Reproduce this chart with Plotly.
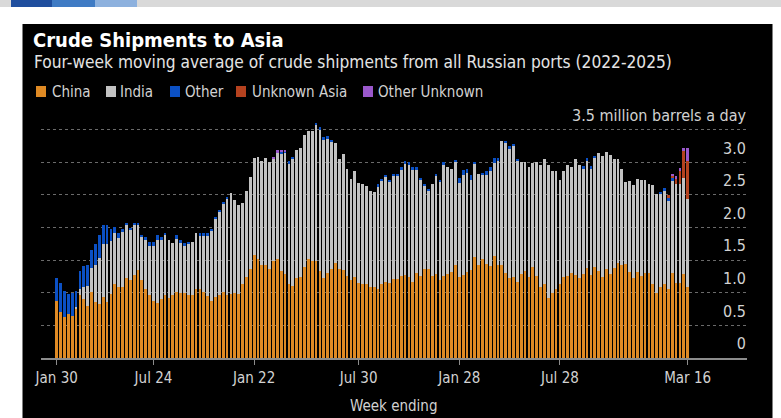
import pandas as pd
import plotly.graph_objects as go

# Weekly observations (week ending), four-week moving averages, million barrels a day
weeks = pd.date_range("2022-01-30", periods=164, freq="7D")

china = [
    0.87, 0.71, 0.63, 0.68, 0.65, 0.76, 0.97, 0.90, 0.80, 1.01,
    0.86, 0.83, 0.93, 0.86, 0.98, 1.14, 1.09, 1.09, 1.22, 1.19,
    1.27, 1.35, 1.19, 1.05, 0.97, 0.88, 0.85, 0.90, 0.96, 0.92,
    0.97, 1.01, 0.99, 0.99, 0.96, 0.96, 1.06, 1.06, 1.01, 0.95,
    0.88, 0.93, 0.96, 1.01, 0.97, 0.98, 1.00, 0.98, 1.13, 1.24,
    1.36, 1.57, 1.51, 1.43, 1.43, 1.36, 1.48, 1.51, 1.33, 1.29,
    1.13, 1.10, 1.23, 1.24, 1.39, 1.51, 1.48, 1.49, 1.33, 1.23,
    1.30, 1.37, 1.46, 1.36, 1.35, 1.25, 1.19, 1.24, 1.15, 1.13,
    1.14, 1.09, 1.08, 1.05, 1.13, 1.16, 1.15, 1.21, 1.21, 1.25,
    1.27, 1.24, 1.17, 1.30, 1.25, 1.36, 1.36, 1.26, 1.29, 1.19,
    1.25, 1.29, 1.31, 1.42, 1.24, 1.27, 1.31, 1.35, 1.54, 1.43,
    1.51, 1.44, 1.41, 1.56, 1.43, 1.43, 1.30, 1.23, 1.24, 1.17,
    1.29, 1.33, 1.24, 1.39, 1.25, 1.09, 1.14, 0.92, 0.99, 1.05,
    1.13, 1.24, 1.26, 1.30, 1.27, 1.22, 1.28, 1.38, 1.27, 1.39,
    1.33, 1.24, 1.36, 1.29, 1.38, 1.45, 1.42, 1.44, 1.31, 1.23,
    1.32, 1.26, 1.30, 1.30, 1.13, 0.99, 1.09, 1.13, 1.06, 1.30,
    1.15, 1.15, 1.28, 1.09,
]

india = [
    0.00, 0.00, 0.00, 0.00, 0.00, 0.02, 0.09, 0.18, 0.30, 0.37,
    0.56, 0.70, 0.81, 0.89, 0.81, 0.78, 0.75, 0.84, 0.82, 0.78,
    0.78, 0.69, 0.67, 0.76, 0.75, 0.84, 0.95, 0.90, 0.93, 0.89,
    0.79, 0.82, 0.77, 0.72, 0.78, 0.82, 0.86, 0.82, 0.87, 0.93,
    1.08, 1.21, 1.29, 1.35, 1.48, 1.54, 1.42, 1.37, 1.25, 1.32,
    1.41, 1.49, 1.57, 1.59, 1.63, 1.64, 1.57, 1.63, 1.80, 1.85,
    1.84, 1.95, 1.96, 1.97, 2.02, 1.96, 1.99, 2.08, 2.16, 2.11,
    2.06, 1.94, 1.84, 1.69, 1.77, 1.64, 1.55, 1.62, 1.53, 1.54,
    1.50, 1.47, 1.47, 1.58, 1.59, 1.62, 1.55, 1.59, 1.59, 1.63,
    1.70, 1.73, 1.72, 1.59, 1.49, 1.28, 1.20, 1.41, 1.50, 1.51,
    1.72, 1.64, 1.59, 1.59, 1.44, 1.53, 1.52, 1.38, 1.44, 1.39,
    1.29, 1.36, 1.45, 1.43, 1.59, 1.89, 1.99, 1.97, 2.00, 1.85,
    1.71, 1.67, 1.68, 1.59, 1.75, 1.86, 1.91, 2.04, 1.87, 1.82,
    1.59, 1.63, 1.69, 1.62, 1.78, 1.73, 1.62, 1.63, 1.63, 1.67,
    1.81, 1.85, 1.79, 1.82, 1.67, 1.60, 1.48, 1.25, 1.40, 1.42,
    1.42, 1.46, 1.42, 1.37, 1.52, 1.52, 1.42, 1.44, 1.35, 1.41,
    1.51, 1.52, 1.47, 1.34,
]

other = [
    0.36, 0.44, 0.39, 0.30, 0.35, 0.24, 0.28, 0.33, 0.33, 0.28,
    0.33, 0.36, 0.29, 0.28, 0.18, 0.08, 0.08, 0.04, 0.03, 0.02,
    0.02, 0.02, 0.02, 0.04, 0.06, 0.06, 0.08, 0.06, 0.03, 0.00,
    0.00, 0.06, 0.04, 0.05, 0.04, 0.00, 0.00, 0.03, 0.03, 0.03,
    0.02, 0.02, 0.02, 0.02, 0.01, 0.00, 0.00, 0.00, 0.00, 0.00,
    0.00, 0.00, 0.00, 0.00, 0.00, 0.00, 0.00, 0.00, 0.03, 0.03,
    0.04, 0.02, 0.00, 0.00, 0.00, 0.00, 0.00, 0.02, 0.05, 0.05,
    0.04, 0.03, 0.00, 0.00, 0.00, 0.00, 0.00, 0.00, 0.00, 0.00,
    0.00, 0.00, 0.00, 0.03, 0.02, 0.03, 0.03, 0.02, 0.02, 0.04,
    0.05, 0.03, 0.03, 0.03, 0.02, 0.03, 0.03, 0.00, 0.03, 0.03,
    0.03, 0.00, 0.00, 0.02, 0.08, 0.08, 0.07, 0.07, 0.02, 0.00,
    0.04, 0.06, 0.07, 0.07, 0.04, 0.00, 0.04, 0.04, 0.04, 0.03,
    0.00, 0.00, 0.00, 0.00, 0.00, 0.00, 0.00, 0.00, 0.00, 0.00,
    0.00, 0.00, 0.00, 0.00, 0.00, 0.00, 0.04, 0.05, 0.04, 0.04,
    0.00, 0.00, 0.00, 0.00, 0.00, 0.00, 0.00, 0.00, 0.00, 0.00,
    0.00, 0.00, 0.00, 0.00, 0.00, 0.00, 0.04, 0.03, 0.04, 0.04,
    0.00, 0.00, 0.00, 0.00,
]

unknown_asia = [0.0] * 158 + [0.04, 0.05, 0.09, 0.19, 0.42, 0.59]

other_unknown = (
    [0.0] * 56 + [0.03, 0.04, 0.03, 0.02] + [0.0] * 99
    + [0.02, 0.03, 0.05, 0.04, 0.19]
)

series_names = ["China", "India", "Other", "Unknown Asia", "Other Unknown"]
series_values = [china, india, other, unknown_asia, other_unknown]
series_colors = ["#DF8A24", "#C2C2C2", "#0B50C4", "#B5421F", "#9A58CB"]

tick_dates = ["2022-01-30", "2022-07-24", "2023-01-22", "2023-07-30",
              "2024-01-28", "2024-07-28", "2025-03-16"]
tick_labels = ["Jan 30", "Jul 24", "Jan 22", "Jul 30", "Jan 28", "Jul 28", "Mar 16"]

y_ticks = [0, 0.5, 1.0, 1.5, 2.0, 2.5, 3.0, 3.5]
y_labels = ["0", "0.5", "1.0", "1.5", "2.0", "2.5", "3.0", "3.5 million barrels a day"]

FONT = "DejaVu Sans Condensed, DejaVu Sans, sans-serif"
W, H = 781, 418
PL, PR, PT, PB = 41, 747, 120, 358


def fx(px):
    return (px - PL) / (PR - PL)


def fy(py):
    return (PB - py) / (PB - PT)


fig = go.Figure()
for name, vals, col in zip(series_names, series_values, series_colors):
    fig.add_trace(go.Bar(x=weeks, y=vals, name=name, marker_color=col,
                         marker_line_width=0, showlegend=False))

start = weeks[0]
x_lo = start - pd.Timedelta(days=28.4)
x_hi = start + pd.Timedelta(days=1248.3)

shapes = []
# header strip
shapes.append(dict(type="rect", xref="paper", yref="paper", x0=fx(0), x1=fx(W),
                   y0=fy(7), y1=fy(0), fillcolor="#D9D9D9", line_width=0, layer="below"))
for (a, b), c in zip([(11, 52), (52, 95), (95, 137)], ["#1F4E9E", "#3F7BC4", "#8DB1DE"]):
    shapes.append(dict(type="rect", xref="paper", yref="paper", x0=fx(a), x1=fx(b),
                       y0=fy(7), y1=fy(0), fillcolor=c, line_width=0, layer="below"))
# dark panel
shapes.append(dict(type="rect", xref="paper", yref="paper", x0=fx(22.5), x1=fx(772.5),
                   y0=fy(H), y1=fy(24), fillcolor="#000000", line_width=0, layer="below"))

annotations = [
    dict(text="<b>Crude Shipments to Asia</b>", x=fx(31), y=fy(40), xref="paper", yref="paper",
         xanchor="left", yanchor="middle", showarrow=False,
         font=dict(family=FONT, size=20, color="#FFFFFF")),
    dict(text="Four-week moving average of crude shipments from all Russian ports (2022-2025)",
         x=fx(32), y=fy(62), xref="paper", yref="paper", xanchor="left", yanchor="middle",
         showarrow=False, font=dict(family=FONT, size=17.2, color="#E4E4E4")),
    dict(text="Week ending", x=fx(393), y=fy(406), xref="paper", yref="paper",
         xanchor="center", yanchor="middle", showarrow=False,
         font=dict(family=FONT, size=15, color="#D2D2D2")),
]

# legend swatches and labels
legend_sq_x = [36, 106, 170, 236, 363]
legend_tx_x = [50, 118, 183, 250, 376]
for name, col, sx, tx in zip(series_names, series_colors, legend_sq_x, legend_tx_x):
    shapes.append(dict(type="rect", xref="paper", yref="paper", x0=fx(sx), x1=fx(sx + 10),
                       y0=fy(97), y1=fy(86), fillcolor=col, line_width=0))
    annotations.append(dict(text=name, x=fx(tx), y=fy(91.5), xref="paper", yref="paper",
                            xanchor="left", yanchor="middle", showarrow=False,
                            font=dict(family=FONT, size=15, color="#D2D2D2")))

fig.update_layout(
    width=W, height=H,
    margin=dict(l=PL, r=W - PR, t=PT, b=H - PB, pad=0),
    paper_bgcolor="#FFFFFF", plot_bgcolor="rgba(0,0,0,0)",
    barmode="stack", bargap=0.28,
    shapes=shapes, annotations=annotations,
    xaxis=dict(type="date", range=[x_lo, x_hi], tickvals=tick_dates, ticktext=tick_labels,
               ticks="outside", ticklen=5, tickwidth=1, tickcolor="#8C8C8C",
               showline=True, linecolor="#8C8C8C", linewidth=1.5,
               showgrid=False, zeroline=False,
               tickfont=dict(family=FONT, size=15, color="#D2D2D2")),
    yaxis=dict(range=[0, 3.645], side="right", tickvals=y_ticks, ticktext=y_labels,
               ticklabelposition="inside top", ticklabeloverflow="allow", ticks="",
               ticklabelshift=-3, ticklabelstandoff=-2,
               showgrid=True, gridcolor="#6A6A6A", griddash="dot", gridwidth=1,
               zeroline=False, showline=False,
               tickfont=dict(family=FONT, size=16, color="#D2D2D2")),
)

fig.write_html("out.html")
